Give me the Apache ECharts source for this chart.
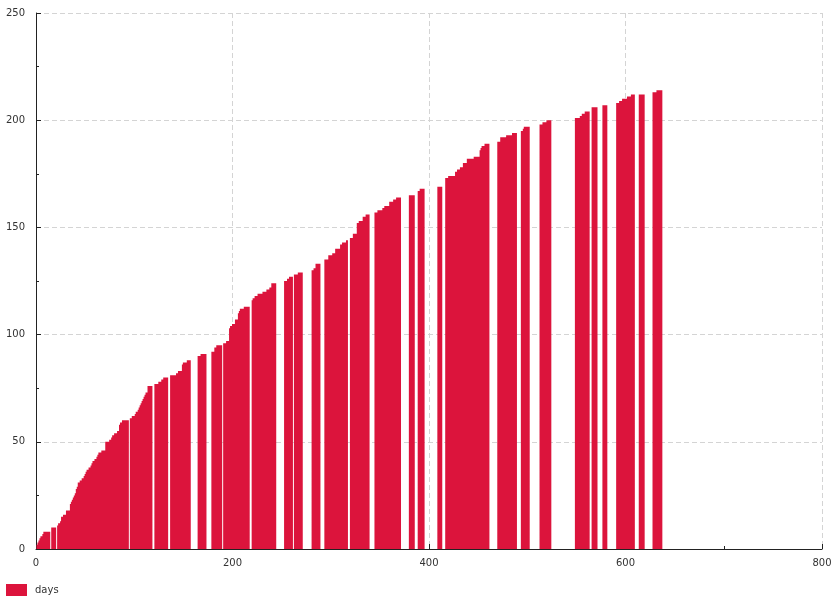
<!DOCTYPE html>
<html>
<head>
<meta charset="utf-8">
<script src="https://cdn.jsdelivr.net/npm/echarts@6/dist/echarts.min.js"></script>
<style>
  html, body { margin: 0; padding: 0; background: #ffffff; }
  #chart { width: 833px; height: 597px; }
</style>
</head>
<body>
<div id="chart"></div>
<script>
// Running total per day; each run is a stretch of consecutive days with data.
const seriesName = 'days';
const xRange = [0, 800];
const yRange = [0, 250];

const runStarts = [1, 16, 22, 96, 121, 137, 165, 179, 191, 220, 253, 263, 281, 294, 320,
                   345, 380, 389, 409, 417, 470, 494, 513, 549, 566, 577, 591, 614, 628];

const runValues = [
  [2, 3, 4, 5, 6, 6, 7, 8, 8, 8, 8, 8, 8, 8],
  [10, 10, 10, 10, 10],
  [11, 12, 12, 13, 15, 15, 16, 16, 16, 18,
   18, 18, 18, 21, 22, 23, 24, 25, 26, 28,
   29, 31, 31, 32, 32, 33, 33, 34, 35, 36,
   37, 37, 38, 38, 39, 40, 41, 41, 42, 42,
   43, 44, 45, 45, 45, 46, 46, 46, 46, 50,
   50, 50, 50, 51, 51, 52, 53, 53, 54, 54,
   54, 55, 55, 58, 59, 59, 60, 60, 60, 60,
   60, 60, 60],
  [61, 61, 62, 62, 62, 63, 64, 64, 65, 66, 67, 68, 69, 70, 71, 72, 73, 73, 76, 76, 76, 76, 76],
  [77, 77, 77, 77, 78, 78, 78, 79, 79, 80, 80, 80, 80, 80],
  [81, 81, 81, 81, 81, 81, 82, 82, 83, 83, 83, 83, 86, 87, 87, 87, 87, 88, 88, 88, 88],
  [90, 90, 90, 91, 91, 91, 91, 91, 91],
  [92, 92, 92, 94, 94, 95, 95, 95, 95, 95, 95],
  [96, 96, 96, 97, 97, 97, 103, 104, 104, 105, 105, 105, 107, 107, 107, 110, 111, 112, 112, 112,
   112, 113, 113, 113, 113, 113, 113],
  [116, 117, 117, 118, 118, 118, 119, 119, 119, 119, 119, 120, 120, 120, 120, 121, 121, 121, 122, 122,
   124, 124, 124, 124, 124],
  [125, 125, 125, 126, 126, 127, 127, 127, 127],
  [128, 128, 128, 128, 129, 129, 129, 129, 129],
  [130, 130, 131, 131, 133, 133, 133, 133, 133],
  [135, 135, 135, 135, 137, 137, 137, 137, 138, 138, 138, 140, 140, 140, 140, 140, 142, 142, 143, 143,
   143, 143, 144, 144],
  [145, 145, 145, 147, 147, 147, 147, 152, 152, 153, 153, 153, 153, 155, 155, 155, 156, 156, 156, 156],
  [157, 157, 157, 158, 158, 158, 158, 158, 159, 159, 160, 160, 160, 160, 160, 162, 162, 162, 162, 163,
   163, 163, 164, 164, 164, 164, 164],
  [165, 165, 165, 165, 165, 165],
  [167, 167, 168, 168, 168, 168, 168],
  [169, 169, 169, 169, 169],
  [173, 173, 173, 174, 174, 174, 174, 174, 174, 174,
   176, 176, 177, 177, 177, 178, 178, 178, 180, 180,
   180, 180, 182, 182, 182, 182, 182, 182, 182, 183,
   183, 183, 183, 183, 183, 186, 187, 188, 188, 188,
   189, 189, 189, 189, 189],
  [190, 190, 190, 192, 192, 192, 192, 192, 192, 193, 193, 193, 193, 193, 193, 194, 194, 194, 194, 194],
  [195, 195, 196, 197, 197, 197, 197, 197, 197],
  [198, 198, 198, 199, 199, 199, 199, 200, 200, 200, 200, 200],
  [201, 201, 201, 201, 201, 202, 202, 203, 203, 203, 204, 204, 204, 204, 204],
  [206, 206, 206, 206, 206, 206],
  [207, 207, 207, 207, 207],
  [208, 208, 208, 209, 209, 209, 210, 210, 210, 210, 210, 211, 211, 211, 211, 212, 212, 212, 212],
  [212, 212, 212, 212, 212, 212],
  [213, 213, 213, 213, 214, 214, 214, 214, 214, 214]
];

// [day, total] pairs; days with no entry are simply left out.
const points = [];
runStarts.forEach((start, r) => {
  runValues[r].forEach((v, i) => points.push([start + i, v]));
});

const FONT = 'DejaVu Sans';
const INK = '#222222';
const TEXT = '#333333';
const GRID = '#d4d4d4';
const BAR = '#dc143c';

const chart = echarts.init(document.getElementById('chart'), null, { renderer: 'canvas' });

chart.setOption({
  animation: false,
  backgroundColor: '#ffffff',
  grid: { left: 36, right: 11, top: 13, bottom: 48, containLabel: false, outerBoundsMode: 'none' },
  legend: {
    show: true,
    left: 6,
    top: 584,
    padding: 0,
    icon: 'rect',
    itemWidth: 21,
    itemHeight: 12,
    data: [seriesName],
    textStyle: { fontFamily: FONT, fontSize: 10, color: TEXT, padding: [0, 0, 0, 3] }
  },
  xAxis: {
    type: 'value',
    min: xRange[0],
    max: xRange[1],
    interval: 200,
    axisLine: { show: true, lineStyle: { color: INK, width: 1 } },
    axisTick: { show: true, inside: true, length: 5, lineStyle: { color: INK, width: 1 } },
    minorTick: { show: true, splitNumber: 2, length: 3, lineStyle: { color: INK, width: 1 } },
    axisLabel: { show: true, margin: 9, fontFamily: FONT, fontSize: 10, color: TEXT },
    splitLine: { show: true, lineStyle: { color: GRID, width: 1, type: [5, 3] } },
    minorSplitLine: { show: false }
  },
  yAxis: {
    type: 'value',
    min: yRange[0],
    max: yRange[1],
    interval: 50,
    axisLine: { show: true, lineStyle: { color: INK, width: 1 } },
    axisTick: { show: true, inside: true, length: 5, lineStyle: { color: INK, width: 1 } },
    minorTick: { show: true, splitNumber: 2, length: 3, lineStyle: { color: INK, width: 1 } },
    axisLabel: { show: true, margin: 11, fontFamily: FONT, fontSize: 10, color: TEXT },
    splitLine: { show: true, lineStyle: { color: GRID, width: 1, type: [5, 3] } },
    minorSplitLine: { show: false }
  },
  series: [{
    name: seriesName,
    type: 'bar',
    large: true,
    largeThreshold: 50,
    barWidth: 1,
    itemStyle: { color: BAR },
    data: points
  }]
});
</script>
</body>
</html>
